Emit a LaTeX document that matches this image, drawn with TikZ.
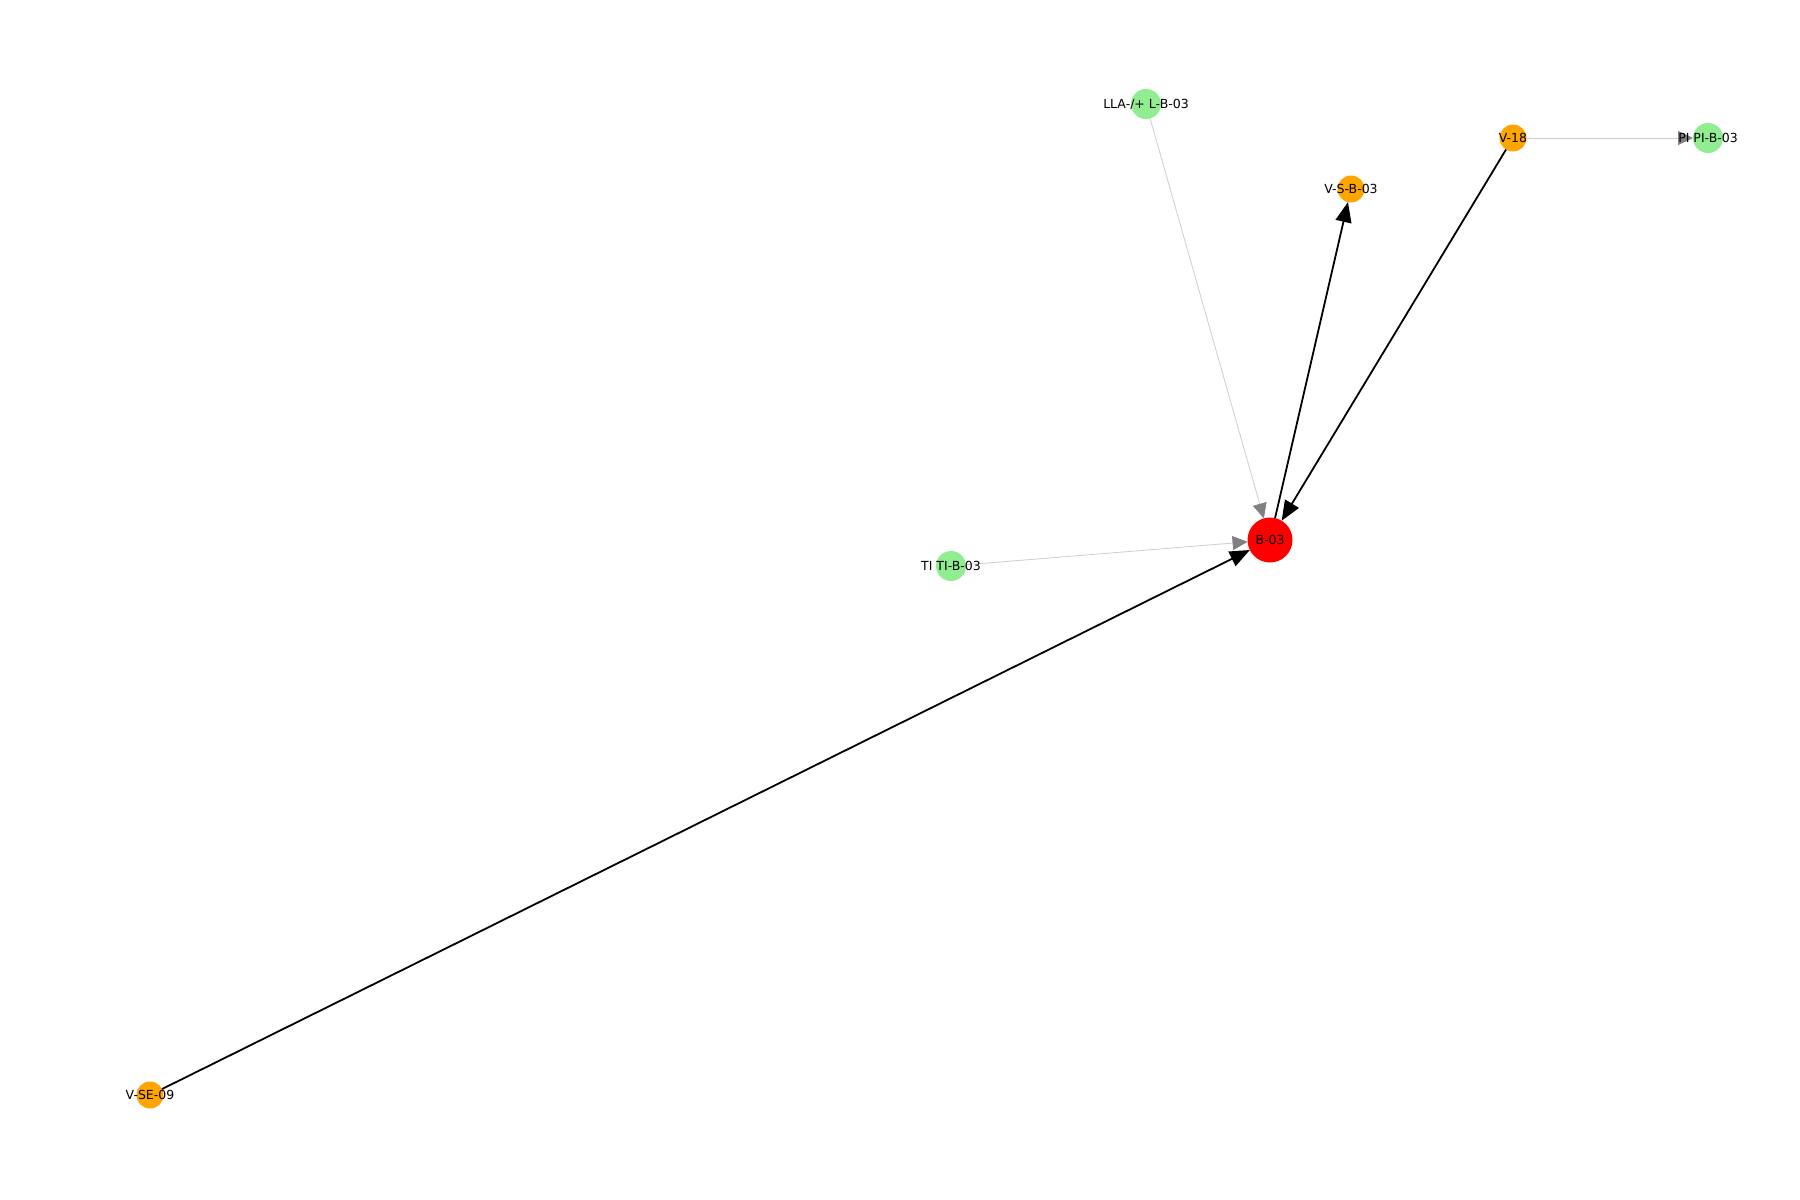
\documentclass[tikz,border=0pt]{standalone}
\usepackage{fontspec}
\setmainfont{DejaVu Sans}
\usetikzlibrary{arrows.meta}
\begin{document}
\begin{tikzpicture}[x=1pt,y=-1pt,
  vorange/.style={circle,fill=orange,draw=none,minimum size=27pt,inner sep=0pt,outer sep=0pt},
  vgreen/.style={circle,fill={rgb,255:red,144;green,238;blue,144},draw=none,minimum size=30pt,inner sep=0pt,outer sep=0pt},
  vred/.style={circle,fill=red,draw=none,minimum size=45pt,inner sep=0pt,outer sep=0pt},
  lbl/.style={font=\fontsize{12.5}{13}\selectfont,inner sep=0pt,text=black},
  strong/.style={draw=black,line width=1.8pt,-{Triangle[length=20pt,width=16pt]}},
  weak/.style={draw={rgb,255:red,205;green,205;blue,205},line width=0.8pt,-{Triangle[length=15pt,width=14pt,color=gray]}}
]
\definecolor{orange}{RGB}{255,165,0}
\useasboundingbox (0,0) rectangle (1800,1200);
\node[vred] (b03) at (1270,540) {};
\node[vgreen] (lla) at (1146,104) {};
\node[vorange] (v18) at (1513,138) {};
\node[vgreen] (pi) at (1708,138) {};
\node[vorange] (vsb) at (1351,189) {};
\node[vgreen] (ti) at (951,566) {};
\node[vorange] (vse) at (150,1095) {};
\draw[weak] (lla) -- (b03);
\draw[weak] (ti) -- (b03);
\draw[weak] (v18) -- (pi);
\draw[strong] (b03) -- (vsb);
\draw[strong] (v18) -- (b03);
\draw[strong] (vse) -- (b03);
\node[lbl] (lb03) at (b03.center) {B-03};
\node[lbl] (llla) at (lla.center) {LLA-/+ L-B-03};
\node[lbl] (lv18) at (v18.center) {V-18};
\node[lbl] (lpi) at (pi.center) {PI PI-B-03};
\node[lbl] (lvsb) at (vsb.center) {V-S-B-03};
\node[lbl] (lti) at (ti.center) {TI TI-B-03};
\node[lbl] (lvse) at (vse.center) {V-SE-09};
\end{tikzpicture}
\end{document}
